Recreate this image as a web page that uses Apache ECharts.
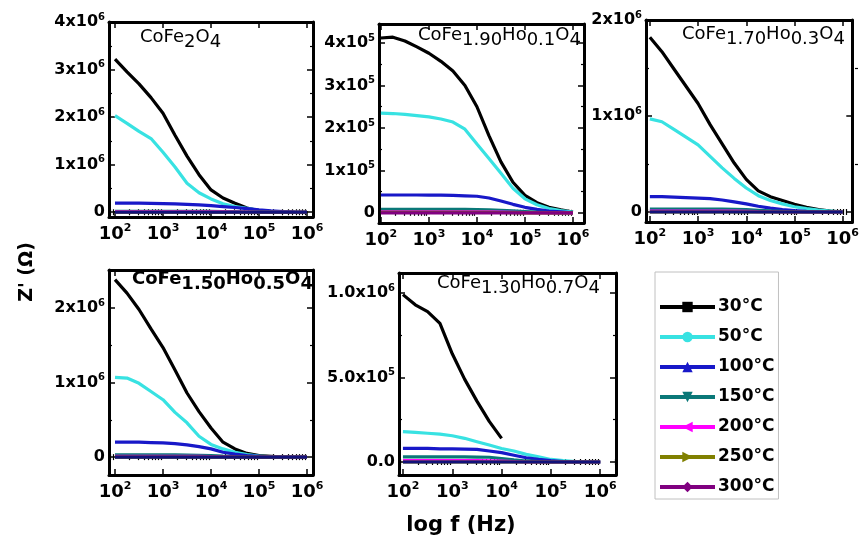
<!DOCTYPE html>
<html><head><meta charset="utf-8">
<script src="https://cdn.jsdelivr.net/npm/echarts@6/dist/echarts.min.js"></script>
<style>html,body{margin:0;padding:0;background:#fff}#c{width:862px;height:541px}</style>
</head><body><div id="c"></div>
<script>
// ---------- DATA ----------
const logF = [2.0, 2.25, 2.5, 2.75, 3.0, 3.25, 3.5, 3.75, 4.0, 4.25, 4.5, 4.75, 5.0, 5.25, 5.5, 5.75, 6.0];
const tempNames = ['30°C', '50°C', '100°C', '150°C', '200°C', '250°C', '300°C'];
const xTickExps = [2, 3, 4, 5, 6];
const titles = ['CoFe2O4', 'CoFe1.90Ho0.1O4', 'CoFe1.70Ho0.3O4', 'CoFe1.50Ho0.5O4', 'CoFe1.30Ho0.7O4'];

// Panel 1: CoFe2O4 (ohm)
const p1_30  = [3.22e6, 2.95e6, 2.70e6, 2.41e6, 2.08e6, 1.62e6, 1.18e6, 0.79e6, 0.47e6, 0.30e6, 0.19e6, 0.09e6, 0.03e6, 0.01e6, 0.005e6, 0, 0];
const p1_50  = [2.03e6, 1.87e6, 1.70e6, 1.55e6, 1.26e6, 0.95e6, 0.61e6, 0.41e6, 0.28e6, 0.18e6, 0.12e6, 0.08e6, 0.04e6, 0.015e6, 0.005e6, 0, 0];
const p1_100 = [0.19e6, 0.19e6, 0.19e6, 0.185e6, 0.18e6, 0.175e6, 0.165e6, 0.155e6, 0.14e6, 0.12e6, 0.10e6, 0.075e6, 0.05e6, 0.03e6, 0.015e6, 0.005e6, 0];
const p1_150 = [0.02e6, 0.02e6, 0.02e6, 0.02e6, 0.02e6, 0.02e6, 0.02e6, 0.02e6, 0.018e6, 0.015e6, 0.012e6, 0.008e6, 0.004e6, 0.002e6, 0, 0, 0];
const p1_200 = [0.01e6, 0.01e6, 0.01e6, 0.01e6, 0.01e6, 0.01e6, 0.01e6, 0.01e6, 0.008e6, 0.006e6, 0.004e6, 0.002e6, 0, 0, 0, 0, 0];
const p1_250 = [0, 0, 0, 0, 0, 0, 0, 0, 0, 0, 0, 0, 0, 0, 0, 0, 0];
const p1_300 = [0, 0, 0, 0, 0, 0, 0, 0, 0, 0, 0, 0, 0, 0, 0, 0, 0];

// Panel 2: CoFe1.90Ho0.1O4
const p2_30  = [4.12e5, 4.14e5, 4.05e5, 3.91e5, 3.76e5, 3.57e5, 3.34e5, 3.00e5, 2.50e5, 1.82e5, 1.20e5, 0.72e5, 0.41e5, 0.24e5, 0.13e5, 0.07e5, 0.02e5];
const p2_50  = [2.35e5, 2.34e5, 2.32e5, 2.29e5, 2.26e5, 2.21e5, 2.14e5, 1.97e5, 1.62e5, 1.28e5, 0.93e5, 0.58e5, 0.33e5, 0.19e5, 0.10e5, 0.05e5, 0.02e5];
const p2_100 = [0.42e5, 0.42e5, 0.42e5, 0.42e5, 0.415e5, 0.415e5, 0.41e5, 0.40e5, 0.39e5, 0.35e5, 0.28e5, 0.20e5, 0.13e5, 0.08e5, 0.04e5, 0.02e5, 0];
const p2_150 = [0.08e5, 0.08e5, 0.08e5, 0.08e5, 0.08e5, 0.08e5, 0.08e5, 0.08e5, 0.078e5, 0.07e5, 0.06e5, 0.045e5, 0.03e5, 0.015e5, 0.005e5, 0, 0];
const p2_200 = [0.02e5, 0.02e5, 0.02e5, 0.02e5, 0.02e5, 0.02e5, 0.02e5, 0.02e5, 0.02e5, 0.02e5, 0.015e5, 0.01e5, 0.005e5, 0, 0, 0, 0];
const p2_250 = [0.01e5, 0.01e5, 0.01e5, 0.01e5, 0.01e5, 0.01e5, 0.01e5, 0.01e5, 0.01e5, 0.01e5, 0.008e5, 0.005e5, 0, 0, 0, 0, 0];
const p2_300 = [0, 0, 0, 0, 0, 0, 0, 0, 0, 0, 0, 0, 0, 0, 0, 0, 0];

// Panel 3: CoFe1.70Ho0.3O4
const p3_30  = [1.82e6, 1.67e6, 1.49e6, 1.31e6, 1.13e6, 0.91e6, 0.71e6, 0.51e6, 0.34e6, 0.22e6, 0.16e6, 0.12e6, 0.08e6, 0.05e6, 0.025e6, 0.01e6, 0];
const p3_50  = [0.97e6, 0.94e6, 0.86e6, 0.78e6, 0.70e6, 0.58e6, 0.46e6, 0.35e6, 0.25e6, 0.17e6, 0.12e6, 0.085e6, 0.055e6, 0.035e6, 0.02e6, 0.01e6, 0];
const p3_100 = [0.16e6, 0.16e6, 0.155e6, 0.15e6, 0.145e6, 0.14e6, 0.125e6, 0.105e6, 0.085e6, 0.06e6, 0.04e6, 0.025e6, 0.015e6, 0.008e6, 0.003e6, 0, 0];
const p3_150 = [0.03e6, 0.03e6, 0.03e6, 0.03e6, 0.03e6, 0.03e6, 0.03e6, 0.028e6, 0.024e6, 0.018e6, 0.012e6, 0.007e6, 0.003e6, 0, 0, 0, 0];
const p3_200 = [0.01e6, 0.01e6, 0.01e6, 0.01e6, 0.01e6, 0.01e6, 0.01e6, 0.01e6, 0.008e6, 0.005e6, 0.003e6, 0, 0, 0, 0, 0, 0];
const p3_250 = [0, 0, 0, 0, 0, 0, 0, 0, 0, 0, 0, 0, 0, 0, 0, 0, 0];
const p3_300 = [0, 0, 0, 0, 0, 0, 0, 0, 0, 0, 0, 0, 0, 0, 0, 0, 0];

// Panel 4: CoFe1.50Ho0.5O4
const p4_30  = [2.38e6, 2.20e6, 1.98e6, 1.72e6, 1.47e6, 1.17e6, 0.86e6, 0.61e6, 0.39e6, 0.20e6, 0.11e6, 0.05e6, 0.02e6, 0.01e6, 0, 0, 0];
const p4_50  = [1.07e6, 1.06e6, 0.99e6, 0.88e6, 0.77e6, 0.60e6, 0.46e6, 0.28e6, 0.17e6, 0.11e6, 0.065e6, 0.035e6, 0.015e6, 0.005e6, 0, 0, 0];
const p4_100 = [0.20e6, 0.20e6, 0.20e6, 0.195e6, 0.19e6, 0.18e6, 0.165e6, 0.14e6, 0.11e6, 0.065e6, 0.04e6, 0.02e6, 0.01e6, 0, 0, 0, 0];
const p4_150 = [0.03e6, 0.03e6, 0.03e6, 0.03e6, 0.03e6, 0.03e6, 0.028e6, 0.025e6, 0.02e6, 0.013e6, 0.007e6, 0.003e6, 0, 0, 0, 0, 0];
const p4_200 = [0.01e6, 0.01e6, 0.01e6, 0.01e6, 0.01e6, 0.01e6, 0.01e6, 0.01e6, 0.008e6, 0.005e6, 0.002e6, 0, 0, 0, 0, 0, 0];
const p4_250 = [0, 0, 0, 0, 0, 0, 0, 0, 0, 0, 0, 0, 0, 0, 0, 0, 0];
const p4_300 = [0, 0, 0, 0, 0, 0, 0, 0, 0, 0, 0, 0, 0, 0, 0, 0, 0];

// Panel 5: CoFe1.30Ho0.7O4
const p5_30  = [0.99e6, 0.93e6, 0.89e6, 0.82e6, 0.64e6, 0.49e6, 0.36e6, 0.24e6, 0.14e6, null, null, null, null, null, null, null, null];
const p5_50  = [0.18e6, 0.175e6, 0.17e6, 0.165e6, 0.155e6, 0.14e6, 0.12e6, 0.10e6, 0.08e6, 0.065e6, 0.045e6, 0.03e6, 0.015e6, 0.008e6, 0.003e6, 0, 0];
const p5_100 = [0.08e6, 0.08e6, 0.08e6, 0.078e6, 0.077e6, 0.076e6, 0.075e6, 0.065e6, 0.055e6, 0.04e6, 0.025e6, 0.015e6, 0.008e6, 0.003e6, 0, 0, 0];
const p5_150 = [0.03e6, 0.03e6, 0.03e6, 0.03e6, 0.03e6, 0.03e6, 0.029e6, 0.028e6, 0.02e6, 0.012e6, 0.006e6, 0.002e6, 0, 0, 0, 0, 0];
const p5_200 = [0.008e6, 0.008e6, 0.008e6, 0.008e6, 0.008e6, 0.008e6, 0.008e6, 0.007e6, 0.005e6, 0.003e6, 0, 0, 0, 0, 0, 0, 0];
const p5_250 = [0, 0, 0, 0, 0, 0, 0, 0, 0, 0, 0, 0, 0, 0, 0, 0, 0];
const p5_300 = [0, 0, 0, 0, 0, 0, 0, 0, 0, 0, 0, 0, 0, 0, 0, 0, 0];

const panelData = [
  [p1_30, p1_50, p1_100, p1_150, p1_200, p1_250, p1_300],
  [p2_30, p2_50, p2_100, p2_150, p2_200, p2_250, p2_300],
  [p3_30, p3_50, p3_100, p3_150, p3_200, p3_250, p3_300],
  [p4_30, p4_50, p4_100, p4_150, p4_200, p4_250, p4_300],
  [p5_30, p5_50, p5_100, p5_150, p5_200, p5_250, p5_300]
];
const yMajor = [
  [0, 1e6, 2e6, 3e6, 4e6],
  [0, 1e5, 2e5, 3e5, 4e5],
  [0, 1e6, 2e6],
  [0, 1e6, 2e6],
  [0, 5e5, 1e6]
];
const yMinor = [
  [0.5e6, 1.5e6, 2.5e6, 3.5e6],
  [0.5e5, 1.5e5, 2.5e5, 3.5e5],
  [0.5e6, 1.5e6],
  [0.5e6, 1.5e6],
  [2.5e5, 7.5e5]
];
const yDecimals = [0, 0, 0, 0, 1];

// ---------- LAYOUT / STYLE ----------
const layout = [
  {left: 109, top: 22, width: 204, height: 195, xMin: 1.875, xMax: 6.125, yMin: -0.1e6, yMax: 4e6, tx: 140, ty: 31, bold: false},
  {left: 379, top: 24, width: 205, height: 199, xMin: 1.96, xMax: 6.23, yMin: -0.24e5, yMax: 4.45e5, tx: 418, ty: 29, bold: false},
  {left: 646, top: 20, width: 212, height: 202, xMin: 1.92, xMax: 6.2, yMin: -0.104e6, yMax: 2.0e6, tx: 682, ty: 28, bold: false},
  {left: 109, top: 270, width: 204, height: 205, xMin: 1.875, xMax: 6.125, yMin: -0.24e6, yMax: 2.51e6, tx: 132, ty: 273, bold: true},
  {left: 399, top: 273, width: 217, height: 202, xMin: 1.92, xMax: 6.32, yMin: -0.077e6, yMax: 1.118e6, tx: 437, ty: 277, bold: false}
];
const colors = ['#000000', '#38e2e2', '#1818c8', '#0a7878', '#ff00ff', '#808000', '#800080'];
const navy = '#12127a';
const symbols = ['rect', 'circle', 'triangle', 'path://M0,0 L10,0 L5,10 Z', 'path://M10,0 L10,10 L0,5 Z', 'path://M0,0 L10,5 L0,10 Z', 'diamond'];
const FONT = 'DejaVu Sans';

function minorLog(min, max) {
  const out = [];
  for (let n = 1; n <= 6; n++) for (let k = 2; k <= 9; k++) {
    const v = Math.log10(k * Math.pow(10, n));
    if (v > min && v < max) out.push(v);
  }
  return out;
}
function yFmt(dec) {
  return function (v) {
    if (Math.abs(v) < 1e-9) return '{b|' + (dec ? (0).toFixed(dec) : '0') + '}';
    const e = Math.floor(Math.log10(Math.abs(v)) + 1e-9);
    const m = v / Math.pow(10, e);
    return '{b|' + (dec ? m.toFixed(dec) : Math.round(m)) + 'x10}{s|' + e + '}';
  };
}
const yRich = {
  b: {fontFamily: FONT, fontWeight: 'bold', fontSize: 16, lineHeight: 20, color: '#000'},
  s: {fontFamily: FONT, fontWeight: 'bold', fontSize: 10, lineHeight: 10, verticalAlign: 'top', color: '#000'}
};
const xRich = {
  b: {fontFamily: FONT, fontWeight: 'bold', fontSize: 18, lineHeight: 22, color: '#000'},
  s: {fontFamily: FONT, fontWeight: 'bold', fontSize: 11, lineHeight: 11, verticalAlign: 'top', color: '#000'}
};
function titleRich(bold) {
  const w = bold ? 'bold' : 'normal';
  return {
    n: {fontFamily: FONT, fontWeight: w, fontSize: 18, lineHeight: 18, padding: [0, 0, 5, 0], color: '#000'},
    d: {fontFamily: FONT, fontWeight: w, fontSize: 18, lineHeight: 18, padding: [5, 0, 0, 0], color: '#000'}
  };
}
function titleText(t) {
  const parts = t.match(/[A-Z][a-z]?|[0-9.]+/g);
  return parts.map(p => /^[0-9.]/.test(p) ? '{d|' + p + '}' : '{n|' + p + '}').join('');
}

const grids = [], xAxes = [], yAxes = [], series = [], titleOpts = [];
const axisLineStyle = {show: true, onZero: false, lineStyle: {color: '#000', width: 3}};
layout.forEach(L => grids.push({left: L.left, top: L.top, width: L.width, height: L.height}));
layout.forEach(L => grids.push({left: L.left, top: L.top, width: L.width, height: L.height}));
layout.forEach((L, k) => {
  const xm = minorLog(L.xMin, L.xMax);
  const xBase = {type: 'value', min: L.xMin, max: L.xMax, splitLine: {show: false}};
  xAxes.push(Object.assign({}, xBase, {gridIndex: k, position: 'bottom', axisLine: axisLineStyle,
    axisTick: {inside: true, length: 6, customValues: xTickExps, lineStyle: {width: 1.5, color: '#000'}},
    axisLabel: {customValues: xTickExps, margin: 6, formatter: v => '{b|10}{s|' + Math.round(v) + '}', rich: xRich}}));
  xAxes.push(Object.assign({}, xBase, {gridIndex: k, position: 'top', axisLine: axisLineStyle,
    axisTick: {inside: true, length: 6, customValues: xTickExps, lineStyle: {width: 1.5, color: '#000'}},
    axisLabel: {show: false}}));
  xAxes.push(Object.assign({}, xBase, {gridIndex: k + 5, position: 'bottom', axisLine: {show: false},
    axisTick: {inside: true, length: 3, customValues: xm, lineStyle: {width: 1.2, color: '#000'}}, axisLabel: {show: false}}));
  xAxes.push(Object.assign({}, xBase, {gridIndex: k + 5, position: 'top', axisLine: {show: false},
    axisTick: {inside: true, length: 3, customValues: xm, lineStyle: {width: 1.2, color: '#000'}}, axisLabel: {show: false}}));

  const yBase = {type: 'value', min: L.yMin, max: L.yMax, splitLine: {show: false}};
  yAxes.push(Object.assign({}, yBase, {gridIndex: k, position: 'left', axisLine: axisLineStyle,
    axisTick: {inside: true, length: 6, customValues: yMajor[k], lineStyle: {width: 1.5, color: '#000'}},
    axisLabel: {customValues: yMajor[k], margin: 4, formatter: yFmt(yDecimals[k]), rich: yRich}}));
  yAxes.push(Object.assign({}, yBase, {gridIndex: k, position: 'right', axisLine: axisLineStyle,
    axisTick: {inside: true, length: 6, customValues: yMajor[k], lineStyle: {width: 1.5, color: '#000'}},
    axisLabel: {show: false}}));
  yAxes.push(Object.assign({}, yBase, {gridIndex: k + 5, position: 'left', axisLine: {show: false},
    axisTick: {inside: true, length: 3, customValues: yMinor[k], lineStyle: {width: 1.2, color: '#000'}}, axisLabel: {show: false}}));
  yAxes.push(Object.assign({}, yBase, {gridIndex: k + 5, position: 'right', axisLine: {show: false},
    axisTick: {inside: true, length: 3, customValues: yMinor[k], lineStyle: {width: 1.2, color: '#000'}}, axisLabel: {show: false}}));

  titleOpts.push({left: L.tx, top: L.ty, padding: 0, text: titleText(titles[k]),
    textStyle: {rich: titleRich(L.bold), fontSize: 18, fontFamily: FONT}});
});

// Panel 2 first so the legend takes its colours
[1, 0, 2, 3, 4].forEach(k => {
  panelData[k].forEach((arr, t) => {
    const c = (t === 6 && k !== 1) ? navy : colors[t];
    series.push({
      name: tempNames[t], type: 'line', xAxisIndex: 4 * k, yAxisIndex: 4 * k,
      data: logF.map((x, i) => [x, arr[i]]),
      symbol: symbols[t], symbolSize: 9, showSymbol: false,
      lineStyle: {width: 3.2, color: c}, itemStyle: {color: c},
      connectNulls: false, animation: false
    });
  });
});

const option = {
  animation: false,
  backgroundColor: '#fff',
  title: titleOpts,
  grid: grids,
  xAxis: xAxes,
  yAxis: yAxes,
  series: series,
  legend: {
    data: tempNames, orient: 'vertical', left: 655, top: 272,
    itemWidth: 55, itemHeight: 13, itemGap: 12,
    padding: [26, 4, 3, 3], borderColor: '#c0c0c0', borderWidth: 1,
    lineStyle: {width: 4},
    textStyle: {fontFamily: FONT, fontWeight: 'bold', fontSize: 17, color: '#000', lineHeight: 18, padding: [0, 0, 0, -2]},
    selectedMode: false
  },
  graphic: [
    {type: 'text', x: 27, y: 272, rotation: Math.PI / 2,
      style: {text: "Z' (Ω)", fontFamily: FONT, fontWeight: 'bold', fontSize: 19, fill: '#000', align: 'center', verticalAlign: 'middle'}},
    {type: 'text', x: 461, y: 526,
      style: {text: 'log f (Hz)', fontFamily: FONT, fontWeight: 'bold', fontSize: 21, fill: '#000', align: 'center', verticalAlign: 'middle'}}
  ]
};
const chart = echarts.init(document.getElementById('c'), null, {renderer: 'canvas'});
chart.setOption(option);
</script></body></html>
